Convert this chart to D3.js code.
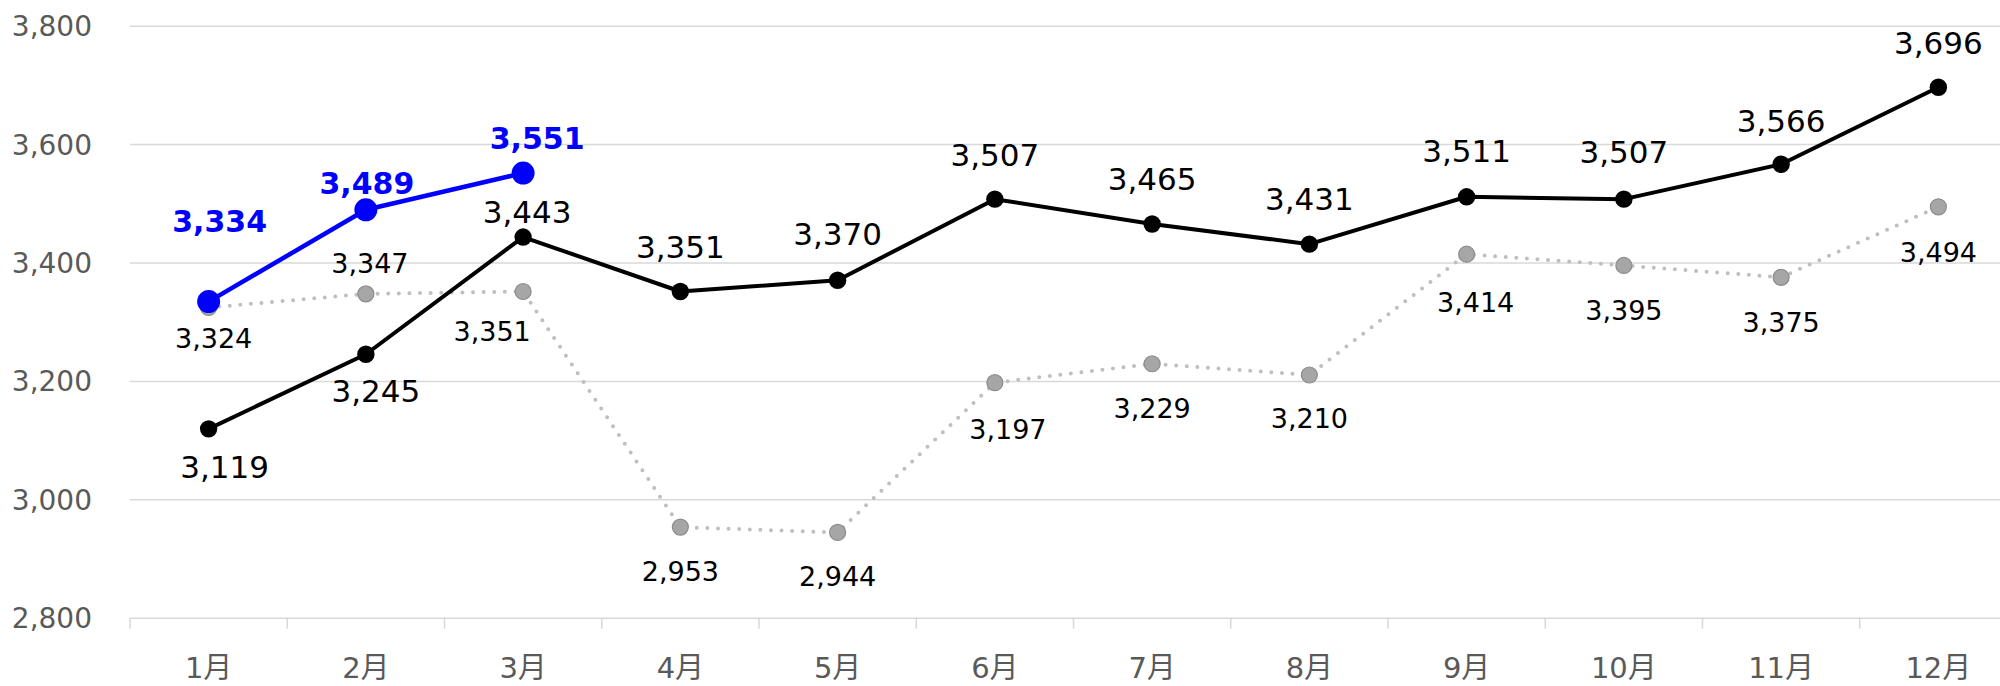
<!DOCTYPE html>
<html>
<head>
<meta charset="utf-8">
<script src="https://cdn.jsdelivr.net/npm/d3@7"></script>
<style>
  html, body { margin: 0; padding: 0; background: #fff; }
  svg { display: block; }
  text { font-family: "DejaVu Sans", "Noto Sans CJK JP", sans-serif; }
</style>
</head>
<body>
<svg id="chart" width="2000" height="686"></svg>
<script>
// ---- data ----
const months = ["1月","2月","3月","4月","5月","6月","7月","8月","9月","10月","11月","12月"];
const blackValues = [3119, 3245, 3443, 3351, 3370, 3507, 3465, 3431, 3511, 3507, 3566, 3696];
const grayValues  = [3324, 3347, 3351, 2953, 2944, 3197, 3229, 3210, 3414, 3395, 3375, 3494];
const blueValues  = [3334, 3489, 3551];
const yTicks = [2800, 3000, 3200, 3400, 3600, 3800];

// ---- label placement (baseline offset from point, horizontal nudge) ----
const blackLabelDy = [49, 48, -14, -34, -35, -33, -34, -34, -35, -36, -32, -33];
const blackLabelDx = [16, 10, 4, 0, 0, 0, 0, 0, 0, 0, 0, 0];
const grayLabelDy  = [41, -21, 49, 54, 54, 56, 54, 53, 58, 55, 55, 55];
const grayLabelDx  = [5, 4, -31, 0, 0, 13, 0, 0, 9, 0, 0, 0];
const blueLabelDy  = [-70, -16, -24];
const blueLabelDx  = [11, 1, 14];

(function () {
const svg = d3.select("#chart");
const mLeft = 130, mRight = 2017, mTop = 25.7, mBottom = 617.7;

const x = d3.scaleBand().domain(months).range([mLeft, mRight]).padding(0);
const y = d3.scaleLinear().domain([2800, 3800]).range([mBottom, mTop]);
const cx = m => x(m) + x.bandwidth() / 2;
const fmt = d3.format(",");

// gridlines + y labels
const yAxis = d3.axisLeft(y).tickValues(yTicks).tickFormat(fmt)
  .tickSize(-(mRight - mLeft)).tickPadding(38);
const gy = svg.append("g").attr("transform", `translate(${mLeft},0)`).call(yAxis);
gy.select(".domain").remove();
gy.selectAll(".tick line").attr("stroke", "#d9d9d9").attr("stroke-width", 1.5);
gy.selectAll(".tick text").attr("fill", "#595959").attr("font-size", 28)
  .attr("dy", "0.36em");

// x axis labels
const xAxis = d3.axisBottom(x).tickSize(0).tickPadding(0);
const gx = svg.append("g").attr("transform", `translate(0,${mBottom})`).call(xAxis);
gx.select(".domain").remove();
gx.selectAll(".tick text").attr("fill", "#595959").attr("font-size", 29)
  .attr("dy", null).attr("y", 60);

// x boundary ticks
const edges = months.map(m => x(m)).concat([x(months[months.length - 1]) + x.bandwidth()]);
svg.append("g").selectAll("line").data(edges).join("line")
  .attr("x1", d => d).attr("x2", d => d)
  .attr("y1", mBottom).attr("y2", mBottom + 11)
  .attr("stroke", "#d9d9d9").attr("stroke-width", 1.5);

const line = d3.line().x(d => cx(d.m)).y(d => y(d.v));
const toPts = vals => vals.map((v, i) => ({ m: months[i], v, i }));

// gray dotted series
const grayPts = toPts(grayValues);
svg.append("path").datum(grayPts).attr("d", line)
  .attr("fill", "none").attr("stroke", "#bfbfbf").attr("stroke-width", 4)
  .attr("stroke-linecap", "round").attr("stroke-dasharray", "0 10.6");
svg.append("g").selectAll("circle").data(grayPts).join("circle")
  .attr("cx", d => cx(d.m)).attr("cy", d => y(d.v)).attr("r", 8)
  .attr("fill", "#a6a6a6").attr("stroke", "#8c8c8c").attr("stroke-width", 1.2);

// black series
const blackPts = toPts(blackValues);
svg.append("path").datum(blackPts).attr("d", line)
  .attr("fill", "none").attr("stroke", "#000").attr("stroke-width", 4)
  .attr("stroke-linejoin", "round");
svg.append("g").selectAll("circle").data(blackPts).join("circle")
  .attr("cx", d => cx(d.m)).attr("cy", d => y(d.v)).attr("r", 8.7)
  .attr("fill", "#000");

// blue series
const bluePts = toPts(blueValues);
svg.append("path").datum(bluePts).attr("d", line)
  .attr("fill", "none").attr("stroke", "#0000ff").attr("stroke-width", 4.5)
  .attr("stroke-linejoin", "round");
svg.append("g").selectAll("circle").data(bluePts).join("circle")
  .attr("cx", d => cx(d.m)).attr("cy", d => y(d.v)).attr("r", 11.5)
  .attr("fill", "#0000ff");

// labels
svg.append("g").selectAll("text").data(grayPts).join("text")
  .attr("x", d => cx(d.m) + grayLabelDx[d.i]).attr("y", d => y(d.v) + grayLabelDy[d.i])
  .attr("text-anchor", "middle").attr("font-size", 27).attr("fill", "#000")
  .text(d => fmt(d.v));
svg.append("g").selectAll("text").data(blackPts).join("text")
  .attr("x", d => cx(d.m) + blackLabelDx[d.i]).attr("y", d => y(d.v) + blackLabelDy[d.i])
  .attr("text-anchor", "middle").attr("font-size", 31).attr("fill", "#000")
  .text(d => fmt(d.v));
svg.append("g").selectAll("text").data(bluePts).join("text")
  .attr("x", d => cx(d.m) + blueLabelDx[d.i]).attr("y", d => y(d.v) + blueLabelDy[d.i])
  .attr("text-anchor", "middle").attr("font-size", 30).attr("font-weight", "bold")
  .attr("fill", "#0000ff")
  .text(d => fmt(d.v));
})();
</script>
</body>
</html>
